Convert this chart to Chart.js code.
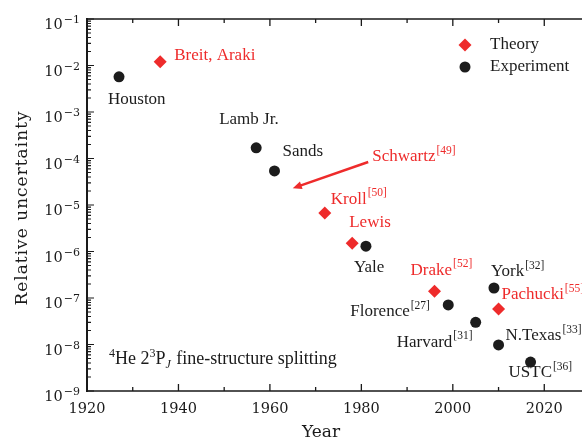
<!DOCTYPE html>
<html>
<head>
<meta charset="utf-8">
<script src="https://cdn.jsdelivr.net/npm/chart.js@4.4.1/dist/chart.umd.min.js"></script>
<style>
  html, body { margin: 0; padding: 0; overflow: hidden; background: #fff; width: 582px; height: 439px; }
  canvas { display: block; }
</style>
</head>
<body>
<canvas id="chart" width="600" height="439"></canvas>
<script>
// Theoretical calculations of the He 2^3P_J fine-structure splitting
const theoryYears  = [1936, 1972, 1978, 1996, 2010];
const theoryValues = [1.2e-2, 6.7e-6, 1.5e-6, 1.4e-7, 5.8e-8];
const theoryNames  = ['Breit, Araki', 'Kroll', 'Lewis', 'Drake', 'Pachucki'];
const theoryRefs   = ['', '50', '', '52', '55'];

// Experimental measurements
const expYears  = [1927, 1957, 1961, 1981, 1999, 2005, 2009, 2010, 2017];
const expValues = [5.7e-3, 1.7e-4, 5.4e-5, 1.3e-6, 7.1e-8, 3.0e-8, 1.64e-7, 9.8e-9, 4.2e-9];
const expNames  = ['Houston', 'Lamb Jr.', 'Sands', 'Yale', 'Florence', 'Harvard', 'York', 'N.Texas', 'USTC'];
const expRefs   = ['', '', '', '', '27', '31', '32', '33', '36'];

// Schwartz calculation, marked by an arrow: [year, value] of tail and head
const schwartzFrom = [1981.5, 8.4e-5];
const schwartzTo   = [1965, 2.3e-5];
const schwartzName = 'Schwartz';
const schwartzRef  = '49';

// Axis ticks
const xTickYears = [1920, 1940, 1960, 1980, 2000, 2020];
const xMinorYears = [1930, 1950, 1970, 1990, 2010, 2030];
const yTickExponents = [-9, -8, -7, -6, -5, -4, -3, -2, -1];

const legendNames = ['Theory', 'Experiment'];
const xTitle = 'Year';
const yTitle = 'Relative uncertainty';

const RED = '#ee2b2b';
const BLACK = '#1c1c1c';
const AXIS = '#1a1a1a';
const TEXT_FONT = '"Liberation Serif", "Times New Roman", serif';
const AXIS_FONT = '"DejaVu Serif", serif';

// Label placement relative to each marker (pixels: left edge, vertical centre)
const labelOffsets = {
  'Houston': [-11, 23], 'Breit, Araki': [14, -6], 'Lamb Jr.': [-37, -28],
  'Sands': [8, -19], 'Kroll': [6, -14], 'Lewis': [-3, -21], 'Yale': [-12, 21],
  'Drake': [-24, -21], 'Florence': [-98, 7], 'Harvard': [-79, 20],
  'York': [-3, -16], 'Pachucki': [3, -14], 'N.Texas': [7, -9], 'USTC': [-22, 11],
  'Schwartz': [4, -5]
};

function drawLabel(ctx, text, ref, x, y, color) {
  ctx.fillStyle = color;
  ctx.textAlign = 'left';
  ctx.textBaseline = 'middle';
  ctx.font = '17px ' + TEXT_FONT;
  ctx.fillText(text, x, y);
  if (ref) {
    const w = ctx.measureText(text).width;
    ctx.font = '11.5px ' + TEXT_FONT;
    ctx.fillText('[' + ref + ']', x + w + 1, y - 6);
  }
}

const decorations = {
  id: 'decorations',
  afterDraw(chart) {
    const ctx = chart.ctx;
    const xs = chart.scales.x, ys = chart.scales.y;
    const area = chart.chartArea;
    ctx.save();

    // frame
    ctx.strokeStyle = AXIS;
    ctx.lineWidth = 1.5;
    ctx.beginPath();
    ctx.moveTo(area.left, area.top); ctx.lineTo(area.right, area.top);
    ctx.moveTo(area.left, area.bottom); ctx.lineTo(area.right, area.bottom);
    ctx.moveTo(area.right, area.top); ctx.lineTo(area.right, area.bottom);
    ctx.stroke();
    ctx.lineWidth = 2;
    ctx.beginPath();
    ctx.moveTo(area.left, area.top - 1); ctx.lineTo(area.left, area.bottom + 1);
    ctx.stroke();

    // x ticks (inward, bottom and top)
    ctx.lineWidth = 1.3;
    ctx.beginPath();
    xTickYears.forEach(v => {
      const px = xs.getPixelForValue(v);
      ctx.moveTo(px, area.bottom); ctx.lineTo(px, area.bottom - 7);
      ctx.moveTo(px, area.top); ctx.lineTo(px, area.top + 7);
    });
    xMinorYears.forEach(v => {
      const px = xs.getPixelForValue(v);
      ctx.moveTo(px, area.bottom); ctx.lineTo(px, area.bottom - 4);
      ctx.moveTo(px, area.top); ctx.lineTo(px, area.top + 4);
    });
    ctx.stroke();

    // y ticks (inward, log minor ticks)
    ctx.lineWidth = 1.2;
    ctx.beginPath();
    yTickExponents.forEach(e => {
      const py = ys.getPixelForValue(Math.pow(10, e));
      ctx.moveTo(area.left, py); ctx.lineTo(area.left + 7, py);
      if (e < -1) {
        for (let m = 2; m <= 9; m++) {
          const pm = ys.getPixelForValue(m * Math.pow(10, e));
          ctx.moveTo(area.left, pm); ctx.lineTo(area.left + 4, pm);
        }
      }
    });
    ctx.stroke();

    // x tick labels
    ctx.fillStyle = AXIS;
    ctx.font = '14.5px ' + AXIS_FONT;
    ctx.textAlign = 'center';
    ctx.textBaseline = 'alphabetic';
    xTickYears.forEach(v => {
      ctx.fillText(String(v), xs.getPixelForValue(v), 413);
    });

    // y tick labels: 10 with superscript exponent
    ctx.textAlign = 'right';
    yTickExponents.forEach(e => {
      const py = ys.getPixelForValue(Math.pow(10, e));
      ctx.font = '11px ' + AXIS_FONT;
      const sup = '\u2212' + Math.abs(e);
      ctx.fillText(sup, 80, py + 4);
      const sw = ctx.measureText(sup).width;
      ctx.font = '14.5px ' + AXIS_FONT;
      ctx.fillText('10', 80 - sw - 1, py + 10);
    });

    // axis titles
    ctx.font = '17px ' + AXIS_FONT;
    ctx.textAlign = 'center';
    ctx.textBaseline = 'alphabetic';
    ctx.fillText(xTitle, 321, 437);
    ctx.save();
    ctx.translate(27, 208);
    ctx.rotate(-Math.PI / 2);
    ctx.font = '17px ' + AXIS_FONT;
    ctx.letterSpacing = '1px';
    ctx.fillText(yTitle, 0, 0);
    ctx.restore();

    // point labels
    theoryNames.forEach((n, i) => {
      const o = labelOffsets[n];
      const px = xs.getPixelForValue(theoryYears[i]);
      const py = ys.getPixelForValue(theoryValues[i]);
      drawLabel(ctx, n, theoryRefs[i], px + o[0], py + o[1], RED);
    });
    expNames.forEach((n, i) => {
      const o = labelOffsets[n];
      const px = xs.getPixelForValue(expYears[i]);
      const py = ys.getPixelForValue(expValues[i]);
      drawLabel(ctx, n, expRefs[i], px + o[0], py + o[1], BLACK);
    });

    // Schwartz arrow
    const ax0 = xs.getPixelForValue(schwartzFrom[0]), ay0 = ys.getPixelForValue(schwartzFrom[1]);
    const ax1 = xs.getPixelForValue(schwartzTo[0]), ay1 = ys.getPixelForValue(schwartzTo[1]);
    const ang = Math.atan2(ay1 - ay0, ax1 - ax0);
    const headLen = 9, headHalf = 4;
    ctx.strokeStyle = RED;
    ctx.fillStyle = RED;
    ctx.lineWidth = 2.5;
    ctx.beginPath();
    ctx.moveTo(ax0, ay0);
    ctx.lineTo(ax1 - Math.cos(ang) * headLen * 0.8, ay1 - Math.sin(ang) * headLen * 0.8);
    ctx.stroke();
    ctx.beginPath();
    ctx.moveTo(ax1, ay1);
    ctx.lineTo(ax1 - Math.cos(ang) * headLen + Math.sin(ang) * headHalf, ay1 - Math.sin(ang) * headLen - Math.cos(ang) * headHalf);
    ctx.lineTo(ax1 - Math.cos(ang) * headLen - Math.sin(ang) * headHalf, ay1 - Math.sin(ang) * headLen + Math.cos(ang) * headHalf);
    ctx.closePath();
    ctx.fill();
    const so = labelOffsets[schwartzName];
    drawLabel(ctx, schwartzName, schwartzRef, ax0 + so[0], ay0 + so[1], RED);

    // legend
    ctx.fillStyle = RED;
    ctx.beginPath();
    ctx.moveTo(465 - 6.5, 45); ctx.lineTo(465, 45 - 6.5); ctx.lineTo(465 + 6.5, 45); ctx.lineTo(465, 45 + 6.5);
    ctx.closePath(); ctx.fill();
    ctx.fillStyle = BLACK;
    ctx.beginPath(); ctx.arc(465, 67, 5.5, 0, Math.PI * 2); ctx.fill();
    ctx.font = '17px ' + TEXT_FONT;
    ctx.textAlign = 'left';
    ctx.textBaseline = 'middle';
    ctx.fillText(legendNames[0], 490, 45);
    ctx.fillText(legendNames[1], 490, 67);

    // system annotation: ^4He 2^3P_J fine-structure splitting
    ctx.fillStyle = AXIS;
    ctx.textBaseline = 'alphabetic';
    let tx = 109; const base = 364;
    const seg = (t, font, dy) => { ctx.font = font; ctx.fillText(t, tx, base + dy); tx += ctx.measureText(t).width; };
    seg('4', '12px ' + TEXT_FONT, -7);
    seg('He 2', '18px ' + TEXT_FONT, 0);
    seg('3', '12px ' + TEXT_FONT, -7);
    seg('P', '18px ' + TEXT_FONT, 0);
    seg('J', 'italic 12px ' + TEXT_FONT, 4);
    tx += 1;
    seg(' fine-structure splitting', '18px ' + TEXT_FONT, 0);

    ctx.restore();
  }
};

new Chart(document.getElementById('chart'), {
  type: 'scatter',
  data: {
    datasets: [
      {
        label: legendNames[0],
        data: theoryYears.map((x, i) => ({ x: x, y: theoryValues[i] })),
        pointStyle: 'rectRot',
        pointRadius: 6.5,
        backgroundColor: RED,
        borderColor: RED,
        borderWidth: 0
      },
      {
        label: legendNames[1],
        data: expYears.map((x, i) => ({ x: x, y: expValues[i] })),
        pointStyle: 'circle',
        pointRadius: 5.5,
        backgroundColor: BLACK,
        borderColor: BLACK,
        borderWidth: 0
      }
    ]
  },
  options: {
    responsive: false,
    animation: false,
    devicePixelRatio: 1,
    events: [],
    layout: { padding: { left: 87, right: 10, top: 19, bottom: 48 } },
    scales: {
      x: { type: 'linear', min: 1920, max: 2030, display: false },
      y: { type: 'logarithmic', min: 1e-9, max: 1e-1, display: false }
    },
    plugins: { legend: { display: false }, tooltip: { enabled: false } }
  },
  plugins: [decorations]
});
</script>
</body>
</html>
